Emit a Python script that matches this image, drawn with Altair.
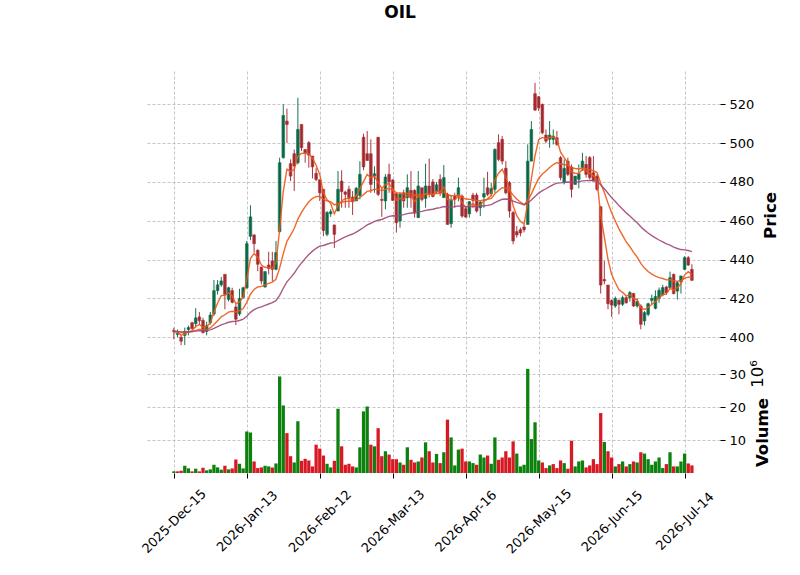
import json
import altair as alt
import pandas as pd

title_text = "OIL"
tick_positions = [0, 20, 40, 60, 80, 100, 120, 140]
tick_labels = ["2025-Dec-15", "2026-Jan-13", "2026-Feb-12", "2026-Mar-13",
               "2026-Apr-16", "2026-May-15", "2026-Jun-15", "2026-Jul-14"]
price_ticks = [400, 420, 440, 460, 480, 500, 520]
volume_ticks = [10, 20, 30]

opens = [
    403.5, 401.5, 400, 401, 404, 407.5, 407, 410.5, 408.7, 403,
    407.5, 412, 424, 427, 432.4, 419.5, 424, 415.6, 412, 420.5,
    425.5, 452, 452.7, 444.8, 436.2, 425.9, 437.2, 439.3, 435, 454.4,
    492.5, 511.3, 489.4, 494.5, 489.9, 509.6, 496.7, 500.2, 493.3, 484.4,
    481.1, 476.2, 453, 463.6, 457.8, 465, 480.4, 474.8, 476.2, 472.2,
    470.2, 473, 503, 494.5, 494.5, 483, 503, 471, 470.2, 483.9,
    481, 473.9, 459.9, 474.4, 471.9, 475.6, 475.6, 461.6, 477, 471.5,
    477.9, 480, 475, 481.3, 471.9, 473.6, 458.5, 472.7, 472.7, 472.7,
    466.2, 463.6, 473.2, 473.2, 466.7, 472.2, 477, 473.9, 476.2, 500.2,
    501.9, 487, 479.6, 464.2, 454.4, 455.4, 456.8, 458.1, 490.7, 525.4,
    523.8, 519.9, 504.1, 501.9, 501.9, 502.7, 492.5, 479.6, 490.7, 487.7,
    478.7, 481.3, 487.3, 489, 492.5, 484.7, 483, 467.2, 429.8, 426.9,
    419, 416.1, 419, 417, 420.4, 420.4, 422.6, 416.1, 416.1, 408.4,
    411.8, 419, 414.9, 420, 421.8, 425.9, 425.6, 432.4, 423.8, 428.6,
    435, 441, 435]

highs = [
    405, 404, 401, 405, 406, 408, 415, 413, 410, 408,
    413, 429.5, 429.5, 431, 432.4, 426, 425.5, 417, 425, 426,
    449.6, 468, 453, 445.3, 436.2, 434, 444, 444, 449.6, 492.5,
    520, 517.7, 491.6, 496.7, 523.3, 509.6, 496.7, 501, 493.3, 487.3,
    481.3, 476.2, 465, 466, 458.1, 485.6, 486, 475.5, 478, 475.3,
    477.4, 490.7, 504.8, 506.2, 501.9, 488, 503, 477, 484, 489.4,
    481.3, 474.4, 474.4, 476, 483.9, 485.6, 476.2, 485.6, 477, 489.4,
    492, 481.5, 480, 483.9, 488.7, 474.4, 473, 474.4, 482.2, 473.6,
    466.7, 470.2, 474.4, 474.4, 470.2, 482.2, 485.2, 479.6, 497.3, 504.5,
    503.6, 490.7, 480.4, 465, 457.3, 456.5, 458.1, 499.3, 511.3, 531,
    524.2, 520.3, 507, 511.3, 507, 506.2, 493.3, 491.6, 492.5, 489,
    483, 489, 495, 493.3, 493.3, 493.3, 483.9, 467.5, 439.3, 426.9,
    419.5, 421, 419.5, 421.5, 421.3, 423.8, 422.6, 420, 417, 413.5,
    417.8, 422, 424.2, 425.6, 427, 426.5, 433.8, 432.8, 429, 431.6,
    441.8, 441.8, 437.6]

lows = [
    399, 400, 396, 396, 401, 404, 405, 406.5, 402, 401,
    406.5, 411, 422, 426, 414.4, 418.5, 417.5, 406.3, 411, 420,
    425, 450, 443.6, 434, 427.3, 425.6, 432.4, 429, 434.5, 453.9,
    492, 500, 480.4, 475.3, 489, 495.9, 489.9, 487.3, 481.8, 480.4,
    470.2, 452.1, 452, 462, 446, 465, 466.7, 466.7, 466.7, 463,
    470.2, 471, 486, 491, 474.4, 474.4, 472.7, 462, 465.9, 474.4,
    470.2, 453.9, 456.4, 466.7, 466.7, 466.7, 461.6, 461.6, 470, 466.7,
    472, 472, 474, 472.7, 471.9, 458.1, 456.4, 466.7, 470, 461.6,
    461.6, 461.6, 466.7, 464.2, 462.4, 466.7, 472.7, 472.7, 474.4, 490.7,
    489, 473.6, 461.6, 447.9, 451.3, 452, 454, 458.1, 490.7, 516.5,
    516.5, 504.5, 500, 497.6, 499.3, 498.5, 480.8, 478.7, 483, 471.9,
    478.7, 476.7, 485.6, 482.2, 481.3, 480.4, 475.3, 422.5, 427.3, 414.4,
    410.5, 415.2, 411.8, 416.1, 417.3, 418.4, 415.6, 415.2, 404.1, 406.1,
    410.8, 417, 414.4, 417.8, 421.1, 421.8, 425.2, 422.1, 419.4, 422.5,
    434.5, 436.7, 429.3]

closes = [
    403, 402, 398, 403, 405, 404.5, 410, 408.5, 402.4, 406,
    411.5, 424, 427, 429, 422, 425.5, 418, 409.3, 420, 425.5,
    448.2, 462, 448.2, 437.6, 429, 433.8, 435.5, 435, 443.6, 489.9,
    514.2, 509.6, 483, 488.2, 507, 497.6, 495, 493.8, 487.7, 481.3,
    474.4, 455, 464.2, 464.7, 453, 476.2, 475, 473.6, 471.9, 469.8,
    476.7, 483.9, 487.7, 491, 478.7, 484.2, 473.6, 470.5, 482.5, 480.1,
    470.5, 459, 473.6, 470.2, 477, 471.9, 464.2, 477.9, 471, 477.9,
    473.6, 472.5, 478.5, 474.4, 482.2, 458.1, 470.5, 471, 477, 462.4,
    461.9, 469.8, 470.5, 465, 469.6, 474, 473.6, 476.5, 496.7, 491.6,
    490.7, 474.4, 465, 449.6, 452.7, 453.7, 455.4, 490.7, 507, 517,
    518.2, 505.3, 501, 504.1, 503.6, 499.3, 482.2, 487, 483.9, 476.2,
    483, 484.2, 490.7, 483.9, 482.2, 480.4, 476.2, 426.9, 429, 417.3,
    416.6, 420, 417, 420.4, 417.8, 423, 416.1, 418.4, 406.7, 412.7,
    417.3, 420, 421, 424.2, 425.6, 423, 430.7, 422.5, 428.1, 431.6,
    441, 437.2, 429.3]

volumes_m = [
    0.5, 0.5, 0.7, 2.2, 1.4, 0.5, 1.3, 0.5, 1.6, 0.8,
    1.1, 2.5, 1.7, 1.0, 2.2, 1.1, 1.4, 4.1, 2.8, 1.4,
    12.6, 12.3, 3.5, 1.5, 1.7, 2.2, 2.0, 1.7, 2.9, 29.3,
    20.5, 12.1, 5.1, 3.2, 15.7, 3.7, 4.3, 3.8, 2.0, 8.6,
    7.4, 5.3, 2.8, 1.7, 3.7, 19.5, 8.1, 2.5, 2.8, 2.0,
    1.7, 7.8, 18.7, 20.2, 8.6, 8.1, 13.6, 5.1, 6.6, 5.6,
    4.2, 4.2, 3.2, 2.5, 7.8, 4.0, 3.2, 3.5, 4.7, 9.3,
    6.6, 3.2, 5.8, 3.0, 6.3, 16.2, 10.8, 2.3, 7.1, 7.4,
    3.5, 3.5, 3.0, 2.5, 5.6, 4.7, 5.3, 2.8, 10.8, 4.0,
    4.7, 6.6, 4.7, 9.6, 5.9, 2.0, 2.5, 31.6, 10.3, 15.4,
    3.8, 3.2, 1.5, 2.3, 2.7, 1.5, 3.8, 3.0, 1.3, 9.8,
    2.0, 3.5, 3.8, 1.7, 2.3, 4.2, 2.7, 18.2, 9.4, 6.6,
    4.7, 2.0, 2.7, 3.5, 2.0, 2.7, 3.5, 3.2, 6.3, 5.9,
    4.2, 2.5, 3.5, 4.7, 1.5, 2.7, 6.3, 2.0, 2.0, 3.5,
    5.9, 2.9, 2.3]

ema_spans = [5, 20, 50]
ema_colors = ["#ef5714", "#ef5714", "#9f4878"]

# ---- table built from the arrays ----
n = len(closes)
df = pd.DataFrame({"i": list(range(n)), "open": opens, "high": highs,
                   "low": lows, "close": closes, "volume": volumes_m})
df["dir"] = ["up" if c >= o else "down" for o, c in zip(opens, closes)]
prev_close = [closes[0]] + closes[:-1]
df["vdir"] = ["vup" if c >= p else "vdown" for c, p in zip(closes, prev_close)]
for s in ema_spans:
    df[f"ema{s}"] = pd.Series(closes).ewm(span=s, adjust=False).mean()

W, H1, H2 = 575, 285, 114
FONT = "DejaVu Sans"
GRID = dict(grid=True, gridColor="#b8b8b8", gridDash=[3, 2], gridWidth=0.8)
LABEL_TITLE_SIZE = 16.5

xscale = alt.Scale(domain=[-7.9, 149.7], nice=False, zero=False)
pscale = alt.Scale(domain=[390.37, 537.1], nice=False, zero=False)
vscale = alt.Scale(domain=[0, 34.6], nice=False, zero=False)

candle_color = alt.Scale(domain=["up", "down"], range=["#006340", "#a02128"])
volume_color = alt.Scale(domain=["vup", "vdown"], range=["#007a00", "#d50d18"])


def top_x_axis():
    return alt.Axis(values=tick_positions, labels=False, ticks=False,
                    domain=False, title=None, **GRID)


def price_axis():
    return alt.Axis(orient="right", values=price_ticks, title="Price",
                    titleAngle=270, titleFontWeight="bold",
                    titleFontSize=LABEL_TITLE_SIZE,
                    titleX=50, titleY=144, titleBaseline="middle",
                    titleAlign="center", labelFontSize=13, tickSize=5,
                    labelPadding=4, domain=False, **GRID)


base = alt.Chart(df)

wicks = base.mark_rule(strokeWidth=1, opacity=0.9).encode(
    x=alt.X("i:Q", scale=xscale, axis=top_x_axis()),
    y=alt.Y("low:Q", scale=pscale, axis=price_axis()), y2="high:Q",
    color=alt.Color("dir:N", scale=candle_color, legend=None))

bodies = base.transform_calculate(
    b0="datum.i - 0.37", b1="datum.i + 0.37"
).mark_bar(opacity=0.9, strokeWidth=0.6).encode(
    x=alt.X("b0:Q", scale=xscale, axis=top_x_axis()), x2="b1:Q",
    y=alt.Y("open:Q", scale=pscale, axis=price_axis()), y2="close:Q",
    color=alt.Color("dir:N", scale=candle_color, legend=None),
    stroke=alt.Stroke("dir:N", scale=candle_color, legend=None))

ema_lines = [
    base.mark_line(color=c, strokeWidth=1.4, opacity=0.9).encode(
        x=alt.X("i:Q", scale=xscale, axis=top_x_axis()),
        y=alt.Y(f"ema{s}:Q", scale=pscale, axis=price_axis()))
    for s, c in zip(ema_spans, ema_colors)
]

title_mark = alt.Chart(pd.DataFrame({"t": [title_text]})).mark_text(
    font=FONT, fontSize=17, fontWeight="bold", align="center",
    baseline="alphabetic", color="black"
).encode(text="t:N", x=alt.value(255), y=alt.value(-53))

price = alt.layer(wicks, bodies, *ema_lines, title_mark).properties(
    width=W, height=H1)

label_expr = json.dumps(tick_labels) + "[round(datum.value / 20)]"
x_bot = alt.X("v0:Q", scale=xscale,
              axis=alt.Axis(values=tick_positions, labelExpr=label_expr,
                            labelAngle=315, labelAlign="center",
                            labelBaseline="middle", labelPadding=43,
                            labelFontSize=13, labelOverlap=False,
                            labelFlush=False, tickSize=5, domain=False,
                            title=None, **GRID))

vol_bars = base.transform_calculate(
    v0="datum.i - 0.45", v1="datum.i + 0.45"
).mark_bar(opacity=0.95).encode(
    x=x_bot, x2="v1:Q",
    y=alt.Y("volume:Q", scale=vscale,
            axis=alt.Axis(orient="right", values=volume_ticks, title="Volume",
                          titleAngle=270, titleFontWeight="bold",
                          titleFontSize=LABEL_TITLE_SIZE, titleX=42,
                          titleY=73, titleBaseline="middle",
                          titleAlign="center", labelFontSize=13, tickSize=5,
                          labelPadding=4, domain=False, **GRID)),
    y2=alt.datum(0),
    color=alt.Color("vdir:N", scale=volume_color, legend=None))

exp_mark = alt.Chart(pd.DataFrame({"t": ["10\u2076"]})).mark_text(
    font=FONT, fontSize=LABEL_TITLE_SIZE, angle=270, align="center",
    baseline="middle", color="black"
).encode(text="t:N", x=alt.value(W + 38), y=alt.value(15))

volume = alt.layer(vol_bars, exp_mark).properties(width=W, height=H2)

chart = alt.vconcat(price, volume, spacing=3).resolve_scale(
    color="independent", stroke="independent"
).properties(
    padding={"left": 139, "top": 4, "right": 5, "bottom": 5},
    background="white"
).configure_view(stroke=None).configure_axis(
    labelFont=FONT, titleFont=FONT, labelColor="black", titleColor="black",
    tickColor="black", tickWidth=1
)

chart.save("out.html", embed_options={"renderer": "svg", "actions": False})
